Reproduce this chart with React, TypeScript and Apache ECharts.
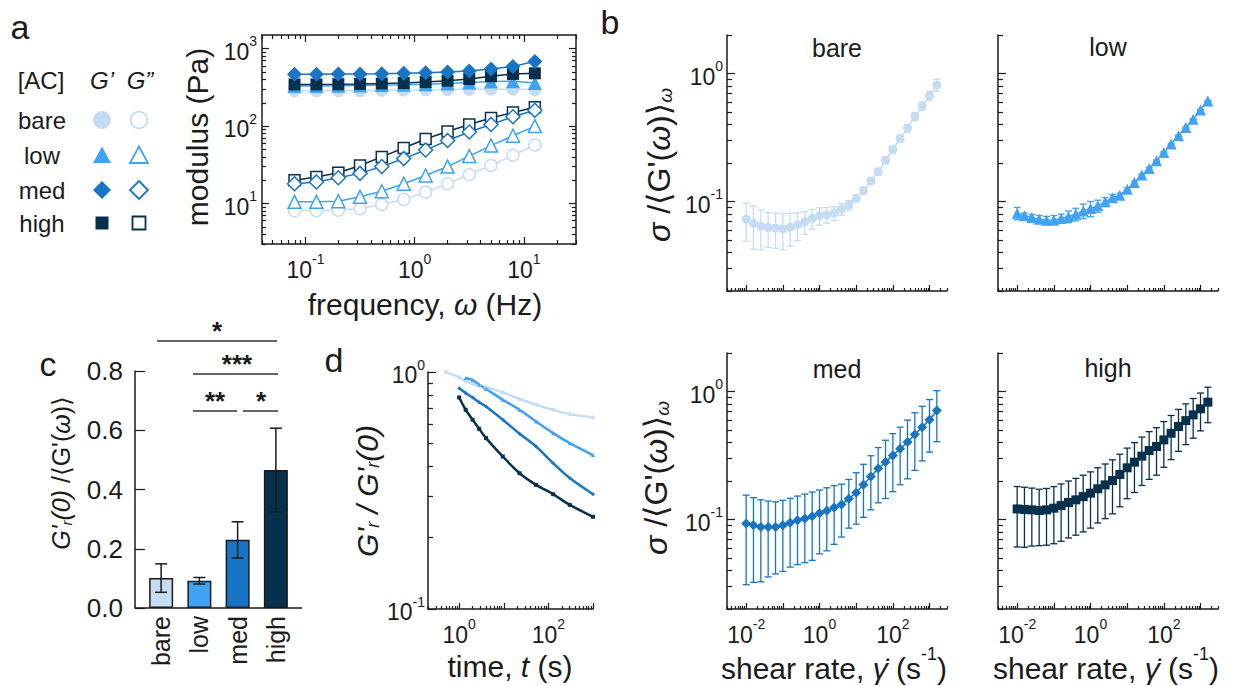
import React, { useEffect, useRef } from 'react';
import * as echarts from 'echarts';

const FONT = '"Liberation Sans", Arial, "DejaVu Sans", sans-serif';
const INK = '#1b1b1b';

const groups = ['bare', 'low', 'med', 'high'];
const groupColors = ['#c6dcf4', '#3fa2f2', '#1874c4', '#07304c'];

// ---- panel a : frequency sweep ----
const freqHz = [0.0794, 0.126, 0.2, 0.316, 0.5, 0.794, 1.26, 2, 3.16, 5, 7.94, 12.6];
const storageBare = [285, 285, 287, 288, 290, 292, 294, 296, 298, 300, 300, 295];
const storageLow = [330, 330, 332, 335, 338, 342, 348, 355, 365, 375, 380, 360];
const storageMed = [468, 468, 470, 472, 475, 480, 490, 500, 515, 545, 590, 680];
const storageHigh = [345, 345, 347, 350, 355, 360, 370, 385, 405, 440, 470, 480];
const lossBare = [8.1, 8.1, 8.2, 8.6, 9.7, 11.3, 14, 18, 23.7, 31, 42, 57];
const lossLow = [10.5, 10.5, 10.7, 12.2, 14.4, 18, 23, 30, 41, 56, 75, 100];
const lossMed = [18, 19, 21.5, 24.5, 30, 38, 49, 65, 84, 105, 132, 160];
const lossHigh = [20, 22, 25, 31, 40, 52, 68, 85, 105, 127, 150, 175];

// ---- panel b : normalised stress fluctuation vs shear rate ----
const shearRate = [0.01, 0.0158, 0.0251, 0.0398, 0.0631, 0.1, 0.158, 0.251, 0.398, 0.631, 1, 1.58, 2.51, 3.98, 6.31, 10, 15.8, 25.1, 39.8, 63.1, 100, 158, 251, 398, 631, 1000, 1585];
const sigmaBare = [0.073, 0.0675, 0.064, 0.0629, 0.0621, 0.0611, 0.0629, 0.0656, 0.0695, 0.0738, 0.0774, 0.0788, 0.0812, 0.0872, 0.0937, 0.106, 0.122, 0.145, 0.171, 0.21, 0.255, 0.31, 0.375, 0.461, 0.558, 0.671, 0.812];
const errBare = [0.024, 0.025, 0.022, 0.019, 0.019, 0.019, 0.018, 0.016, 0.014, 0.013, 0.012, 0.011, 0.01, 0.009, 0.008, 0.007, 0.008, 0.009, 0.011, 0.014, 0.017, 0.021, 0.026, 0.033, 0.042, 0.055, 0.09];
const sigmaLow = [0.081, 0.0773, 0.075, 0.0728, 0.0715, 0.0718, 0.0737, 0.0764, 0.0796, 0.0845, 0.0881, 0.0925, 0.0994, 0.107, 0.112, 0.125, 0.141, 0.161, 0.181, 0.208, 0.242, 0.281, 0.326, 0.379, 0.44, 0.52, 0.611];
const errLow = [0.009, 0.004, 0.004, 0.005, 0.005, 0.006, 0.006, 0.008, 0.009, 0.011, 0.012, 0.01, 0.008, 0.006, 0.004, 0.003, 0.003, 0.003, 0.003, 0.003, 0.003, 0.003, 0.003, 0.004, 0.004, 0.004, 0.005];
const sigmaMed = [0.093, 0.0903, 0.0876, 0.0876, 0.0876, 0.0903, 0.0945, 0.0985, 0.102, 0.106, 0.112, 0.117, 0.124, 0.131, 0.1456, 0.162, 0.187, 0.217, 0.25, 0.281, 0.317, 0.357, 0.403, 0.462, 0.527, 0.601, 0.711];
const errMed = [0.062, 0.058, 0.055, 0.052, 0.05, 0.051, 0.052, 0.054, 0.056, 0.058, 0.058, 0.06, 0.06, 0.058, 0.06, 0.07, 0.083, 0.098, 0.115, 0.135, 0.152, 0.17, 0.195, 0.22, 0.24, 0.265, 0.305];
const sigmaHigh = [0.121, 0.1197, 0.119, 0.1175, 0.119, 0.1227, 0.1286, 0.1358, 0.1425, 0.151, 0.1607, 0.174, 0.1866, 0.2017, 0.2248, 0.2535, 0.2806, 0.3126, 0.346, 0.372, 0.419, 0.472, 0.533, 0.593, 0.657, 0.733, 0.826];
const errHigh = [0.06, 0.059, 0.057, 0.055, 0.056, 0.058, 0.061, 0.064, 0.067, 0.071, 0.075, 0.08, 0.085, 0.091, 0.099, 0.108, 0.118, 0.128, 0.14, 0.15, 0.163, 0.178, 0.192, 0.208, 0.225, 0.24, 0.255];

// ---- panel c : bar chart ----
const ratioValues = [0.101, 0.092, 0.23, 0.466];
const ratioErr = [0.048, 0.011, 0.061, 0.141];

// ---- panel d : stress relaxation ----
const relaxTime = [0.5, 1, 1.4, 2, 2.8, 4, 9.5, 22.6, 53, 128, 301, 1000];
const relaxBare = [1.0, 0.949, 0.913, 0.89, 0.876, 0.864, 0.82, 0.769, 0.727, 0.693, 0.664, 0.643];
const relaxLow = [null, null, 0.943, 0.925, 0.885, 0.848, 0.764, 0.693, 0.618, 0.552, 0.501, 0.446];
const relaxMed = [null, 0.853, 0.815, 0.78, 0.745, 0.716, 0.629, 0.549, 0.485, 0.412, 0.357, 0.305];
const relaxHigh = [null, 0.781, 0.693, 0.629, 0.576, 0.526, 0.44, 0.374, 0.334, 0.305, 0.275, 0.245];

const bShapes = ['circle', 'triangle', 'diamond', 'rect'];

function powersIn(min: number, max: number) {
  const out: number[] = [];
  for (let e = Math.ceil(Math.log10(min) - 1e-9); e <= Math.floor(Math.log10(max) + 1e-9); e++) out.push(Math.pow(10, e));
  return out;
}
function minorsIn(min: number, max: number) {
  const out: number[] = [];
  for (let e = Math.floor(Math.log10(min)) - 1; e <= Math.ceil(Math.log10(max)); e++) {
    for (let k = 2; k <= 9; k++) {
      const v = k * Math.pow(10, e);
      if (v >= min * (1 - 1e-9) && v <= max * (1 + 1e-9)) out.push(v);
    }
  }
  return out;
}

const tickRich = (size: number) => ({
  b: { fontSize: size, fontFamily: FONT, color: INK, lineHeight: size + 6, verticalAlign: 'bottom' },
  s: { fontSize: Math.round(size * 0.62), fontFamily: FONT, color: INK, lineHeight: Math.round(size * 0.62), verticalAlign: 'top' },
});
const supFmt = (v: number) => `{b|10}{s|${Math.round(Math.log10(v))}}`;

const textRich = (S: number) => {
  const sub = Math.round(S * 0.6);
  return {
    n: { fontSize: S, fontFamily: FONT, fill: INK, color: INK, lineHeight: S + 8, verticalAlign: 'bottom' },
    i: { fontSize: S, fontFamily: FONT, fill: INK, color: INK, fontStyle: 'italic', lineHeight: S + 8, verticalAlign: 'bottom' },
    sub: { fontSize: sub, fontFamily: FONT, fill: INK, color: INK, fontStyle: 'italic', lineHeight: sub, verticalAlign: 'bottom' },
    sup: { fontSize: sub, fontFamily: FONT, fill: INK, color: INK, lineHeight: sub, verticalAlign: 'top' },
  };
};

function txt(text: string, x: number, y: number, size: number, opts: any = {}) {
  return {
    type: 'text', x, y, silent: true, rotation: opts.rotation || 0,
    style: {
      text, fontSize: size, fontFamily: FONT, fill: INK, align: 'center', verticalAlign: 'middle',
      fontWeight: opts.bold ? 'bold' : 'normal', fontStyle: opts.italic ? 'italic' : 'normal',
      rich: opts.rich ? textRich(size) : undefined,
    },
  };
}

function errorSeries(xAxisIndex: number, yAxisIndex: number, data: number[][], color: string, cap: number, width: number, z: number) {
  return {
    type: 'custom', xAxisIndex, yAxisIndex, silent: true, z,
    encode: { x: 0, y: [1, 2] },
    data,
    renderItem: (params: any, api: any) => {
      const lo = api.coord([api.value(0), api.value(1)]);
      const hi = api.coord([api.value(0), api.value(2)]);
      const w = cap / 2;
      const st = { stroke: color, lineWidth: width };
      return {
        type: 'group',
        children: [
          { type: 'line', shape: { x1: lo[0], y1: lo[1], x2: hi[0], y2: hi[1] }, style: st },
          { type: 'line', shape: { x1: lo[0] - w, y1: lo[1], x2: lo[0] + w, y2: lo[1] }, style: st },
          { type: 'line', shape: { x1: hi[0] - w, y1: hi[1], x2: hi[0] + w, y2: hi[1] }, style: st },
        ],
      };
    },
  };
}

function buildOption() {
  const grids = [
    { left: 262, top: 35, width: 314, height: 209 },
    { left: 727, top: 35, width: 220, height: 256 },
    { left: 998, top: 35, width: 220, height: 256 },
    { left: 727, top: 353, width: 220, height: 256 },
    { left: 998, top: 353, width: 220, height: 256 },
    { left: 142, top: 371, width: 153, height: 237 },
    { left: 428, top: 372, width: 165, height: 237 },
  ].map((g) => ({ ...g, show: false, containLabel: false, outerBoundsMode: 'none' }));

  const xAxes: any[] = [];
  const yAxes: any[] = [];
  const lineStyle = { color: INK, width: 1.5 };
  const tickStyle = { color: INK, width: 1.2 };

  function logPair(dir: 'x' | 'y', gridIndex: number, min: number, max: number, position: string, cfg: any) {
    const base = { type: 'log', logBase: 10, gridIndex, min, max, position, splitLine: { show: false }, minorTick: { show: false } };
    const major = {
      ...base,
      axisLine: { show: cfg.line !== false, onZero: false, lineStyle },
      axisTick: { show: true, inside: true, length: cfg.majorLen || 7, lineStyle: tickStyle, customValues: powersIn(min, max) },
      axisLabel: cfg.labels
        ? { show: true, customValues: cfg.labels, formatter: supFmt, rich: tickRich(cfg.fontSize || 23), margin: cfg.margin ?? 8, color: INK }
        : { show: false },
    };
    const minor = {
      ...base,
      axisLine: { show: false },
      axisTick: { show: true, inside: true, length: cfg.minorLen || 4, lineStyle: tickStyle, customValues: minorsIn(min, max) },
      axisLabel: { show: false },
    };
    const arr = dir === 'x' ? xAxes : yAxes;
    arr.push(major);
    const idx = arr.length - 1;
    arr.push(minor);
    return idx;
  }

  // panel a
  const aX = logPair('x', 0, 0.04, 30, 'bottom', { labels: [0.1, 1, 10], margin: 8 });
  logPair('x', 0, 0.04, 30, 'top', {});
  const aY = logPair('y', 0, 3, 1500, 'left', { labels: [10, 100, 1000], margin: 5 });
  logPair('y', 0, 3, 1500, 'right', {});

  // panel b
  const bX: number[] = [];
  const bY: number[] = [];
  for (let p = 0; p < 4; p++) {
    bX.push(logPair('x', 1 + p, 0.003, 3000, 'bottom', { labels: p >= 2 ? [0.01, 1, 100] : null, margin: 8, majorLen: 6, minorLen: 3 }));
    bY.push(logPair('y', 1 + p, 0.02, 2, 'left', { labels: p % 2 === 0 ? [0.1, 1] : null, margin: 4, majorLen: 8, minorLen: 5 }));
  }

  // panel c
  xAxes.push({
    type: 'category', gridIndex: 5, data: groups,
    axisLine: { show: false }, axisTick: { show: false },
    axisLabel: { rotate: 90, fontSize: 25, fontFamily: FONT, color: INK, margin: 8 },
  });
  const cX = xAxes.length - 1;
  yAxes.push({
    type: 'value', gridIndex: 5, min: 0, max: 0.8, interval: 0.2, offset: 7,
    axisLine: { show: true, lineStyle },
    axisTick: { show: true, inside: true, length: 10, lineStyle: tickStyle },
    axisLabel: { formatter: (v: number) => v.toFixed(1), fontSize: 26, fontFamily: FONT, color: INK, margin: 12 },
    splitLine: { show: false },
  });
  const cY = yAxes.length - 1;

  // panel d
  const dX = logPair('x', 6, 0.2, 1000, 'bottom', { labels: [1, 100], margin: 8, majorLen: 6, minorLen: 3 });
  const dY = logPair('y', 6, 0.1, 1, 'left', { labels: [0.1, 1], margin: 3, majorLen: 8, minorLen: 5 });

  const series: any[] = [];

  // panel a series
  const storage = [storageBare, storageLow, storageMed, storageHigh];
  const loss = [lossBare, lossLow, lossMed, lossHigh];
  const aSizes = [13, 14, 15, 12];
  const order = [0, 1, 3, 2];
  order.forEach((k) => {
    const c = groupColors[k];
    series.push({
      type: 'line', xAxisIndex: aX, yAxisIndex: aY, silent: true, showAllSymbol: true,
      data: freqHz.map((f, i) => [f, loss[k][i]]),
      symbol: bShapes[k], symbolSize: aSizes[k] - 1,
      itemStyle: { color: '#ffffff', borderColor: c, borderWidth: 1.5 },
      lineStyle: { color: c, width: 1.5 }, z: 3,
    });
  });
  order.forEach((k) => {
    const c = groupColors[k];
    series.push({
      type: 'line', xAxisIndex: aX, yAxisIndex: aY, silent: true, showAllSymbol: true,
      data: freqHz.map((f, i) => [f, storage[k][i]]),
      symbol: bShapes[k], symbolSize: aSizes[k],
      itemStyle: { color: c },
      lineStyle: { color: c, width: 1.5 }, z: 4,
    });
  });

  // panel b series
  const sig = [sigmaBare, sigmaLow, sigmaMed, sigmaHigh];
  const sigErr = [errBare, errLow, errMed, errHigh];
  const bSizes = [9, 11, 10, 9];
  for (let p = 0; p < 4; p++) {
    const c = groupColors[p];
    series.push(errorSeries(bX[p], bY[p], shearRate.map((x, i) => [x, sig[p][i] - sigErr[p][i], sig[p][i] + sigErr[p][i]]), c, 7, 1.3, 2));
    series.push({
      type: 'line', xAxisIndex: bX[p], yAxisIndex: bY[p], silent: true, showAllSymbol: true,
      data: shearRate.map((x, i) => [x, sig[p][i]]),
      symbol: bShapes[p], symbolSize: bSizes[p],
      itemStyle: { color: c }, lineStyle: { color: c, width: 1.5 }, z: 3,
    });
  }

  // panel c series
  series.push({
    type: 'bar', xAxisIndex: cX, yAxisIndex: cY, silent: true, barWidth: 24,
    data: ratioValues.map((v, i) => ({ value: v, itemStyle: { color: groupColors[i], borderColor: INK, borderWidth: 1.5 } })),
    z: 2,
  });
  series.push(errorSeries(cX, cY, ratioValues.map((v, i) => [i, v - ratioErr[i], v + ratioErr[i]]), INK, 12, 1.5, 6));

  // panel d series
  const relax = [relaxBare, relaxLow, relaxMed, relaxHigh];
  [0, 1, 2, 3].forEach((k) => {
    const c = groupColors[k];
    series.push({
      type: 'line', xAxisIndex: dX, yAxisIndex: dY, silent: true, showAllSymbol: true, smooth: 0.3,
      data: relaxTime.map((t, i) => [t, relax[k][i]]).filter((d) => d[1] !== null),
      symbol: bShapes[k], symbolSize: 4,
      itemStyle: { color: c }, lineStyle: { color: c, width: 2.5 }, z: 3,
    });
  });

  // graphic: labels, legend, annotations
  const g: any[] = [];
  g.push(txt('a', 20, 27, 34));
  g.push(txt('b', 610, 22, 34));
  g.push(txt('c', 48, 364, 34));
  g.push(txt('d', 334, 360, 34));

  // legend of panel a
  g.push(txt('[AC]', 41, 80, 24));
  g.push(txt('G\u2019', 102, 80, 24, { italic: true }));
  g.push(txt('G\u201d', 140, 80, 24, { italic: true }));
  const rowsY = [120, 155, 190, 223];
  groups.forEach((name, k) => g.push(txt(name, 42, rowsY[k], 24)));
  const fx = 102, ox = 139;
  const shapeAt = (k: number, cx: number, cy: number, filled: boolean) => {
    const c = groupColors[k];
    const style = filled ? { fill: c } : { fill: '#ffffff', stroke: c, lineWidth: 1.8 };
    if (k === 0) return { type: 'circle', silent: true, shape: { cx, cy, r: filled ? 9 : 8.2 }, style };
    if (k === 1) return { type: 'polygon', silent: true, shape: { points: [[cx, cy - 8.5], [cx + 9, cy + 8], [cx - 9, cy + 8]] }, style };
    if (k === 2) return { type: 'polygon', silent: true, shape: { points: [[cx, cy - 9], [cx + 9, cy], [cx, cy + 9], [cx - 9, cy]] }, style };
    return { type: 'rect', silent: true, shape: { x: cx - 6.5, y: cy - 6.5, width: 13, height: 13 }, style };
  };
  groups.forEach((_, k) => {
    g.push(shapeAt(k, fx, rowsY[k], true));
    g.push(shapeAt(k, ox, rowsY[k], false));
  });

  // axis titles
  g.push(txt('modulus (Pa)', 197, 137, 30, { rotation: Math.PI / 2 }));
  g.push(txt('{n|frequency, }{i|\u03c9}{n| (Hz)}', 425, 300, 30, { rich: true }));
  const bYLabel = '{i|\u03c3}{n| /\u27e8G\'(}{i|\u03c9}{n|)\u27e9}{sub|\u03c9}';
  g.push(txt(bYLabel, 655, 165, 32, { rich: true, rotation: Math.PI / 2 }));
  g.push(txt(bYLabel, 652, 478, 32, { rich: true, rotation: Math.PI / 2 }));
  const shearLabel = '{n|shear rate, }{i|\u03b3\u0307}{n| (s}{sup|-1}{n|)}';
  g.push(txt(shearLabel, 834, 664, 30, { rich: true }));
  g.push(txt(shearLabel, 1106, 664, 30, { rich: true }));
  g.push(txt('{i|G\'}{sub|r}{i|(0)}{n| /\u27e8G\'(}{i|\u03c9}{n|)\u27e9}', 57, 473, 25, { rich: true, rotation: Math.PI / 2 }));
  g.push(txt('{i|G\'}{sub|r}{i| / G\'}{sub|r}{i|(0)}', 363, 491, 30, { rich: true, rotation: Math.PI / 2 }));
  g.push(txt('{n|time, }{i|t}{n| (s)}', 510, 662, 30, { rich: true }));

  // panel b titles
  g.push(txt('bare', 837, 48, 25));
  g.push(txt('low', 1108, 47, 25));
  g.push(txt('med', 837, 369, 25));
  g.push(txt('high', 1108, 368, 25));

  // panel c x axis line and significance brackets
  g.push({ type: 'line', silent: true, shape: { x1: 135, y1: 608, x2: 302, y2: 608 }, style: { stroke: INK, lineWidth: 1.5 } });
  const sigLines = [
    [157, 277, 341, '*', 217],
    [193, 278, 374, '***', 237],
    [193, 237, 411, '**', 215],
    [243, 278, 411, '*', 261],
  ];
  sigLines.forEach(([x1, x2, y, s, tx]) => {
    g.push({ type: 'line', silent: true, shape: { x1, y1: y, x2, y2: y }, style: { stroke: '#333', lineWidth: 1.5 } });
    g.push(txt(s as string, tx as number, (y as number) - 10, 26, { bold: true }));
  });

  return {
    animation: false,
    backgroundColor: '#ffffff',
    textStyle: { fontFamily: FONT },
    grid: grids,
    xAxis: xAxes,
    yAxis: yAxes,
    series,
    graphic: { elements: g },
  };
}

export default function App() {
  const ref = useRef<HTMLDivElement>(null);
  useEffect(() => {
    const chart = echarts.init(ref.current as HTMLDivElement, null, { renderer: 'svg' });
    chart.setOption(buildOption() as any);
    return () => chart.dispose();
  }, []);
  return <div ref={ref} style={{ position: 'absolute', left: 0, top: 0, width: 1234, height: 686 }} />;
}
